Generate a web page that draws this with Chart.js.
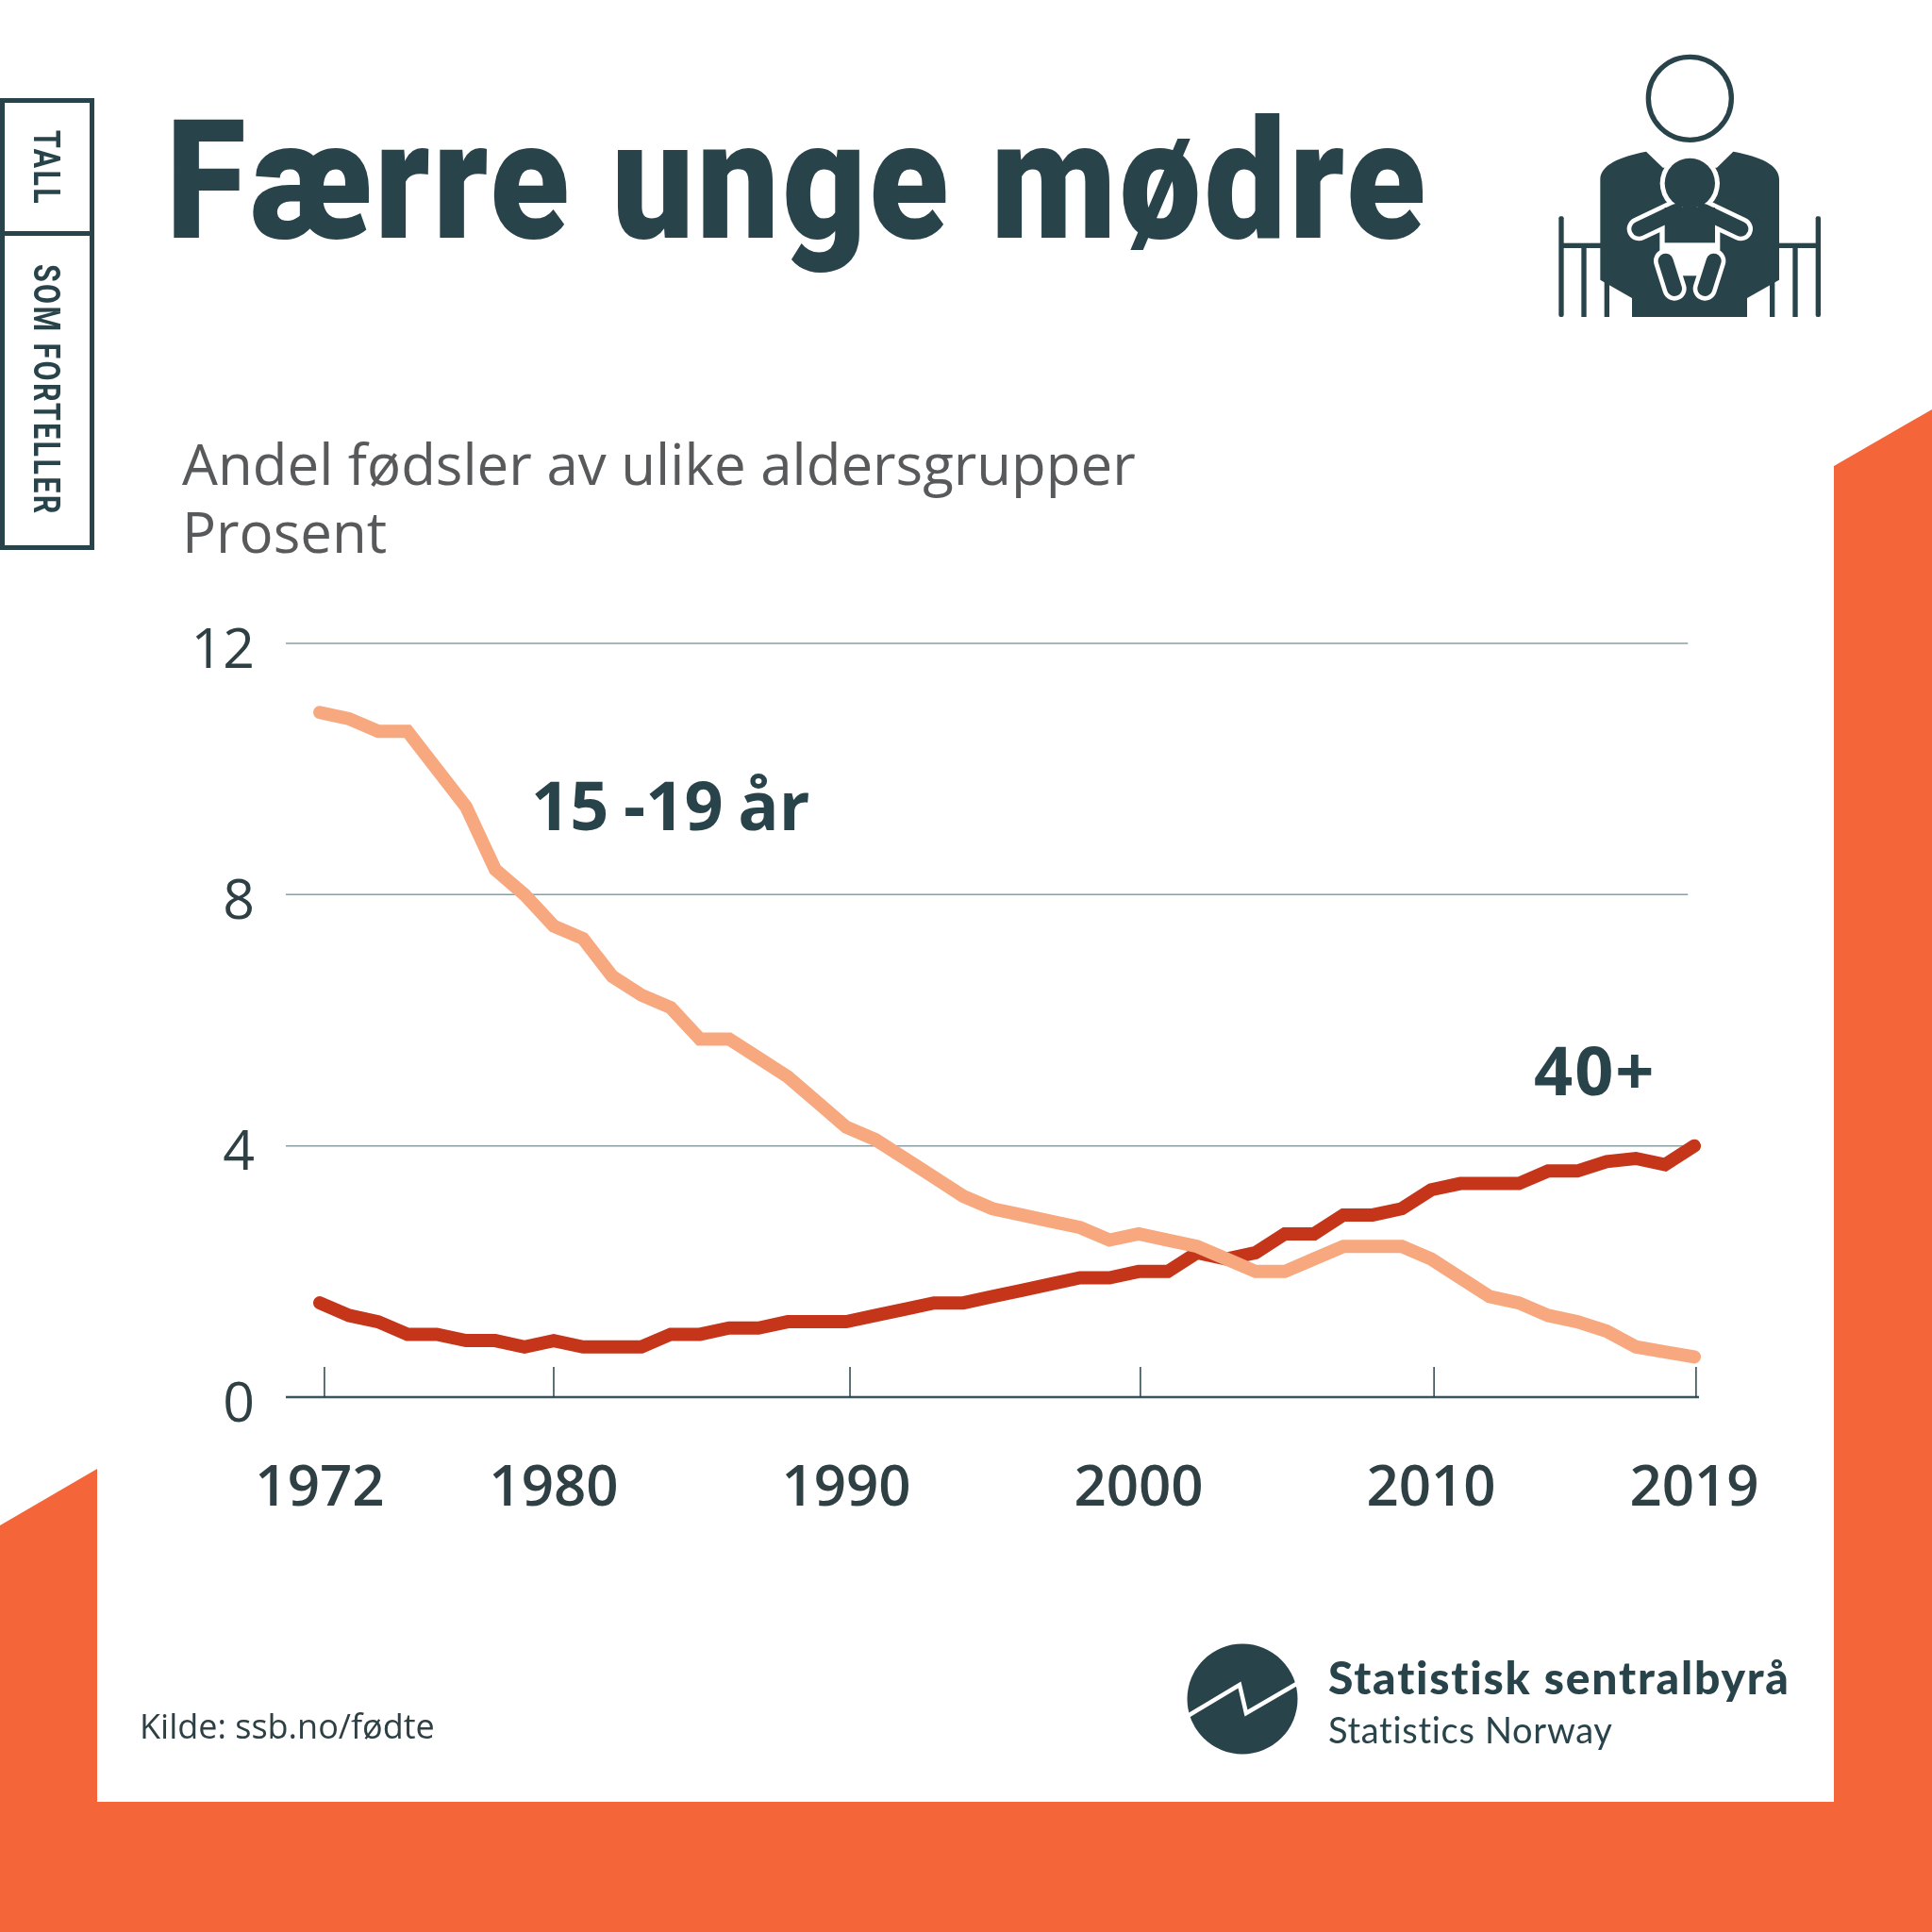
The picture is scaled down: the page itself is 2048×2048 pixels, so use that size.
<!DOCTYPE html>
<html>
<head>
<meta charset="utf-8">
<script src="https://cdn.jsdelivr.net/npm/chart.js@4"></script>
<style>
  html, body { margin: 0; padding: 0; background: #fff; }
  #page { position: relative; width: 2048px; height: 2048px; overflow: hidden; }
  #page > svg, #chart { position: absolute; left: 0; top: 0; }
  .txt { position: absolute; white-space: nowrap; line-height: 1; color: #28434a; font-family: "Open Sans"; }
  .side { font-family: Roboto; font-weight: 700; font-size: 38px; letter-spacing: 3px; transform-origin: 0 0; }
</style>
</head>
<body>
<div id="page">
  <svg width="2048" height="2048">
    <polygon fill="#f4663a" points="0,1617 103,1557 103,1910 1944,1910 1944,494 2048,434 2048,2048 0,2048"/>
    <!-- side box -->
    <rect x="2.5" y="106.5" width="95" height="474" fill="none" stroke="#28434a" stroke-width="5"/>
    <rect x="0" y="245" width="100" height="5" fill="#28434a"/>
    <!-- logo -->
    <circle cx="1317" cy="1801" r="58.5" fill="#28434a"/>
    <polyline points="1259,1819 1314,1786 1321,1816 1376,1784" fill="none" stroke="#fff" stroke-width="4.5"/>
  </svg>
  <!-- mother and baby -->
  <svg style="left:1600px;top:40px" width="360" height="320" viewBox="0 0 1080 960">
    <g fill="#28434a">
      <rect x="157" y="568" width="16" height="320" rx="6"/>
      <rect x="974" y="568" width="16" height="320" rx="6"/>
      <rect x="229" y="660" width="16" height="228"/>
      <rect x="901" y="660" width="16" height="228"/>
      <rect x="302" y="760" width="16" height="128"/>
      <rect x="828" y="760" width="16" height="128"/>
      <rect x="165" y="653" width="130" height="16"/>
      <rect x="852" y="653" width="130" height="16"/>
      <path d="M435,362 C350,378 290,405 289,450 L289,770 L390,828 L390,888 L756,888 L756,828 L858,770 L858,450 C858,405 800,378 712,362 L660,413 L488,413 Z"/>
    </g>
    <circle cx="574" cy="193" r="132" fill="none" stroke="#28434a" stroke-width="16"/>
    <circle cx="574" cy="463" r="95" fill="#fff"/>
    <g stroke-linecap="round" fill="none">
      <path d="M412,608 L530,552 M736,608 L618,552" stroke="#fff" stroke-width="76"/>
      <rect x="478" y="590" width="192" height="167" fill="#fff"/>
      <path d="M412,608 L530,552 M736,608 L618,552" stroke="#28434a" stroke-width="48"/>
      <rect x="494" y="540" width="160" height="112" fill="#28434a"/>
      <path d="M497,710 L525,798 M650,710 L622,798" stroke="#fff" stroke-width="76"/>
      <path d="M497,710 L525,798 M650,710 L622,798" stroke="#28434a" stroke-width="48"/>
    </g>
    <circle cx="574" cy="463" r="80" fill="#28434a"/>
  </svg>
  <canvas id="chart" width="2048" height="2048"></canvas>

  <div class="txt" style="left:176px;top:104px;font-family:Roboto;font-weight:900;font-size:176px;letter-spacing:3.6px;transform-origin:0 0;transform:scaleX(.878)">Færre unge mødre</div>
  <div class="txt side" style="left:49px;top:138px;transform:rotate(90deg) translateY(-50%) scaleX(.8)">TALL</div>
  <div class="txt side" style="left:49px;top:280px;transform:rotate(90deg) translateY(-50%) scaleX(.8)">SOM FORTELLER</div>
  <div class="txt" style="left:193px;top:461px;font-size:60px;color:#58595b">Andel fødsler av ulike aldersgrupper</div>
  <div class="txt" style="left:193px;top:533px;font-size:60px;color:#58595b">Prosent</div>
  <div class="txt" style="left:563px;top:816px;font-size:72px;font-weight:700;word-spacing:-3px">15 -19 år</div>
  <div class="txt" style="left:1626px;top:1097px;font-size:72px;font-weight:700;letter-spacing:2px">40+</div>
  <div class="txt" style="left:148px;top:1812px;font-size:36px;color:#2f4045">Kilde: ssb.no/fødte</div>
  <div class="txt" style="left:1408px;top:1754px;font-family:Lato;font-weight:900;font-size:48px;letter-spacing:1.8px">Statistisk sentralbyrå</div>
  <div class="txt" style="left:1408px;top:1814px;font-family:Lato;font-size:38px;letter-spacing:.7px">Statistics Norway</div>
</div>

<script>
const years = [1972, 1973, 1974, 1975, 1976, 1977, 1978, 1979, 1980, 1981, 1982, 1983, 1984, 1985, 1986, 1987,
    1988, 1989, 1990, 1991, 1992, 1993, 1994, 1995, 1996, 1997, 1998, 1999, 2000, 2001, 2002, 2003,
    2004, 2005, 2006, 2007, 2008, 2009, 2010, 2011, 2012, 2013, 2014, 2015, 2016, 2017, 2018, 2019];
const teens = [10.9, 10.8, 10.6, 10.6, 10.0, 9.4, 8.4, 8.0, 7.5, 7.3, 6.7, 6.4, 6.2, 5.7, 5.7, 5.4,
    5.1, 4.7, 4.3, 4.1, 3.8, 3.5, 3.2, 3.0, 2.9, 2.8, 2.7, 2.5, 2.6, 2.5, 2.4, 2.2,
    2.0, 2.0, 2.2, 2.4, 2.4, 2.4, 2.2, 1.9, 1.6, 1.5, 1.3, 1.2, 1.05, 0.8, 0.72, 0.64];
const forties = [1.5, 1.3, 1.2, 1.0, 1.0, 0.9, 0.9, 0.8, 0.9, 0.8, 0.8, 0.8, 1.0, 1.0, 1.1, 1.1,
    1.2, 1.2, 1.2, 1.3, 1.4, 1.5, 1.5, 1.6, 1.7, 1.8, 1.9, 1.9, 2.0, 2.0, 2.3, 2.2,
    2.3, 2.6, 2.6, 2.9, 2.9, 3.0, 3.3, 3.4, 3.4, 3.4, 3.6, 3.6, 3.75, 3.8, 3.7, 4.0];
const labelYears = [1972, 1980, 1990, 2000, 2010, 2019];
// the tick marks in the picture sit a little off the labels
const tickMarks = [1972.16, 1980, 1990.13, 2000.06, 2010.1, 2019.06];
const yTicks = [0, 4, 8, 12];

const toPoints = (values) => values.map((v, i) => ({ x: years[i], y: v }));

const axisLines = {
    id: 'axisLines',
    beforeDatasetsDraw(chart) {
        const { ctx, scales: { x, y }, chartArea } = chart;
        ctx.save();
        // grid stops short of the baseline's right end
        ctx.strokeStyle = '#8a9ea4';
        ctx.lineWidth = 1.5;
        for (const v of yTicks.slice(1)) {
            ctx.beginPath();
            ctx.moveTo(chartArea.left, y.getPixelForValue(v));
            ctx.lineTo(x.getPixelForValue(2018.78), y.getPixelForValue(v));
            ctx.stroke();
        }
        ctx.strokeStyle = '#3a555c';
        ctx.lineWidth = 2.5;
        ctx.beginPath();
        ctx.moveTo(chartArea.left, y.getPixelForValue(0));
        ctx.lineTo(chartArea.right, y.getPixelForValue(0));
        ctx.stroke();
        ctx.strokeStyle = '#28434a';
        ctx.lineWidth = 1.5;
        for (const t of tickMarks) {
            ctx.beginPath();
            ctx.moveTo(x.getPixelForValue(t), y.getPixelForValue(0));
            ctx.lineTo(x.getPixelForValue(t), y.getPixelForValue(0.48));
            ctx.stroke();
        }
        ctx.restore();
    }
};

new Chart(document.getElementById('chart'), {
    type: 'line',
    data: {
        datasets: [
            { label: '15-19 år', data: toPoints(teens), borderColor: '#f8a87e' },
            { label: '40+', data: toPoints(forties), borderColor: '#c5351a' }
        ]
    },
    options: {
        responsive: false,
        animation: false,
        devicePixelRatio: 1,
        layout: { padding: { left: 0, top: 682, right: 247, bottom: 437 } },
        datasets: {
            line: {
                borderWidth: 14,
                borderCapStyle: 'round',
                borderJoinStyle: 'miter',
                pointRadius: 0,
                tension: 0,
                clip: false
            }
        },
        scales: {
            x: {
                type: 'linear',
                min: 1970.84,
                max: 2019.16,
                grid: { display: false, drawTicks: false },
                border: { display: false },
                afterBuildTicks: (scale) => { scale.ticks = labelYears.map((v) => ({ value: v })); },
                afterFit: (scale) => { scale.height = 130; },
                ticks: {
                    autoSkip: false,
                    maxRotation: 0,
                    padding: 62,
                    color: '#2f4045',
                    font: { family: 'Open Sans', size: 60, weight: '600' },
                    callback: (v) => String(v)
                }
            },
            y: {
                min: 0,
                max: 12,
                grid: { display: false, drawTicks: false },
                border: { display: false },
                afterBuildTicks: (scale) => { scale.ticks = yTicks.map((v) => ({ value: v })); },
                afterFit: (scale) => { scale.width = 303; },
                ticks: {
                    padding: 33,
                    labelOffset: 9,
                    color: '#2f4045',
                    font: { family: 'Open Sans', size: 59 }
                }
            }
        },
        plugins: { legend: { display: false }, tooltip: { enabled: false } }
    },
    plugins: [axisLines]
});
</script>
</body>
</html>
